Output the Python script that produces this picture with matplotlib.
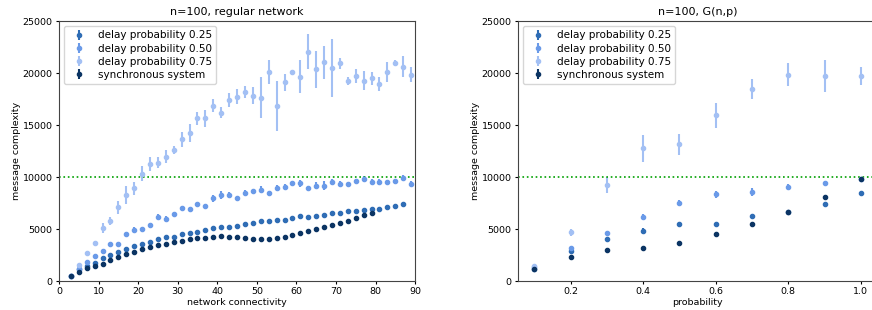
import numpy as np
import matplotlib
matplotlib.use('Agg')
import matplotlib.pyplot as plt

# regular network, connectivity 3..89
conn = np.arange(3, 90, 2)

reg_sync = [450, 900, 1280, 1470, 1670, 2020, 2280, 2560, 2820, 3040, 3240, 3430,
            3590, 3750, 3880, 4000, 4100, 4170, 4230, 4290, 4230, 4200, 4170, 4070,
            4000, 4000, 4130, 4260, 4450, 4650, 4810, 4970, 5160, 5350, 5610, 5800,
            6060, 6310, 6500, np.nan, np.nan, np.nan, np.nan, np.nan]
reg_d25 = [450, 1120, 1410, 1760, 2180, 2470, 2790, 3040, 3400, 3590, 3780, 4000,
           4200, 4260, 4520, 4580, 4710, 4900, 5100, 5160, 5190, 5260, 5480, 5540,
           5740, 5740, 5870, 5870, 6030, 6250, 6190, 6250, 6350, 6500, 6570, 6700,
           6760, 6800, 6960, 6960, 7080, 7210, 7400, np.nan]
reg_d25_err = [30, 60, 60, 80, 80, 80, 80, 80, 80, 80, 80, 80,
               80, 80, 80, 80, 80, 80, 80, 80, 80, 80, 80, 80,
               80, 80, 80, 80, 80, 80, 80, 80, 80, 80, 80, 80,
               80, 80, 80, 80, 80, 80, 80, 80]
reg_d50 = [450, 1190, 1790, 2370, 2920, 3530, 3590, 4490, 4900, 5030, 5350, 6150,
           5990, 6470, 6990, 6890, 7400, 7180, 7950, 8270, 8270, 7950, 8490, 8620,
           8780, 8490, 8970, 9010, 9390, 9390, 8910, 9170, 9170, 9520, 9330, 9330,
           9580, 9810, 9520, 9550, 9550, 9620, 9870, 9360]
reg_d50_err = [40, 100, 120, 150, 150, 150, 150, 220, 300, 150, 200, 250,
               300, 200, 200, 250, 150, 150, 350, 400, 250, 150, 250, 150,
               350, 200, 300, 300, 250, 350, 150, 350, 400, 250, 300, 150,
               200, 250, 250, 300, 150, 150, 300, 250]
reg_d75 = [450, 1540, 2660, 3620, 5100, 5770, 7080, 8270, 8910, 10320, 11250, 11380,
           11950, 12600, 13620, 14260, 15640, 15640, 16860, 16190, 17400, 17720, 18170, 17820,
           17630, 20130, 16860, 19100, 20060, 19650, 22050, 20350, 21030, 20450, 20930, 19230,
           19700, 19260, 19490, 18940, 20130, 20930, 20610, 19840]
reg_d75_err = [50, 200, 150, 200, 500, 400, 650, 900, 650, 700, 650, 550,
               650, 400, 700, 850, 650, 800, 650, 500, 700, 700, 550, 800,
               2000, 1150, 2400, 800, 200, 1600, 1700, 1800, 1600, 2800, 500, 350,
               700, 900, 650, 700, 950, 300, 1000, 700]

# G(n,p)
prob = np.arange(1, 11) / 10
gnp_sync = [1120, 2280, 2980, 3170, 3690, 4520, 5510, 6670, 8110, 9840]
gnp_d25 = [1200, 2850, 4070, 4810, 5510, 5510, 6280, 6670, 7370, 8490]
gnp_d25_err = [60, 100, 100, 250, 100, 100, 100, 100, 100, 100]
gnp_d50 = [1380, 3170, 4650, 6190, 7500, 8330, 8530, 9040, 9390, 9840]
gnp_d50_err = [80, 150, 150, 300, 300, 350, 400, 250, 200, 100]
gnp_d75 = [1470, 4680, 9230, 12760, 13140, 15960, 18490, 19840, 19710, 19710]
gnp_d75_err = [100, 350, 800, 1300, 1000, 1200, 950, 1100, 1500, 850]

c25 = '#2f6db5'
c50 = '#6a9ae8'
c75 = '#a3c0f4'
csync = '#0b3463'

plt.rcParams['font.size'] = 6.8
plt.rcParams['xtick.major.size'] = 2.5
plt.rcParams['ytick.major.size'] = 2.5
plt.rcParams['xtick.major.pad'] = 2
plt.rcParams['ytick.major.pad'] = 2
plt.rcParams['axes.labelpad'] = 1.5

fig = plt.figure(figsize=(8.72, 3.10), dpi=100)
ax1 = fig.add_axes([0.0677, 0.0935, 0.4083, 0.8387])
ax2 = fig.add_axes([0.594, 0.0935, 0.412, 0.8387])


def draw(ax, x, sync, d25, e25, d50, e50, d75, e75):
    kw = dict(fmt='o', markersize=3, elinewidth=1.5, capsize=0)
    ax.errorbar(x, d25, yerr=e25, color=c25, label='delay probability 0.25', **kw)
    ax.errorbar(x, d50, yerr=e50, color=c50, label='delay probability 0.50', **kw)
    ax.errorbar(x, d75, yerr=e75, color=c75, label='delay probability 0.75', **kw)
    ax.errorbar(x, sync, yerr=[0] * len(sync), color=csync, label='synchronous system', **kw)
    ax.axhline(10000, color='#00a000', linestyle=':', linewidth=1.2)
    ax.set_ylim(0, 25000)
    ax.set_ylabel('message complexity')
    ax.legend(loc='upper left', fontsize=7.5, labelspacing=0.3)
    for s in ax.spines.values():
        s.set_color('#444444')


draw(ax1, conn, reg_sync, reg_d25, reg_d25_err, reg_d50, reg_d50_err, reg_d75, reg_d75_err)
ax1.set_xlim(0, 90)
ax1.set_xticks(range(0, 91, 10))
ax1.set_xlabel('network connectivity')
ax1.set_title('n=100, regular network', fontsize=8, pad=4)

draw(ax2, prob, gnp_sync, gnp_d25, gnp_d25_err, gnp_d50, gnp_d50_err, gnp_d75, gnp_d75_err)
ax2.set_xlim(0.055, 1.045)
ax2.set_xlabel('probability')
ax2.set_title('n=100, G(n,p)', fontsize=8, pad=4)

fig.savefig('out.png', dpi=100)
